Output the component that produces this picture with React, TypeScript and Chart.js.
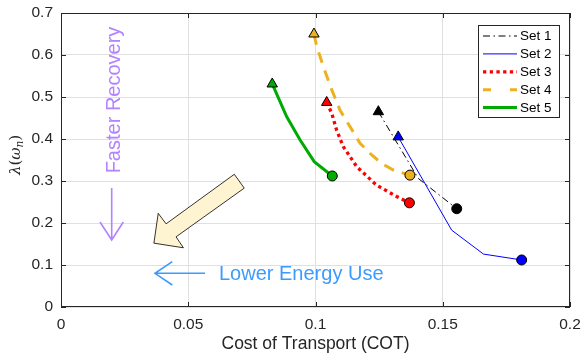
import React, { useEffect, useRef } from 'react';
import { Chart, registerables } from 'chart.js';

Chart.register(...registerables);

// ---- data ----
const xTickLabels = ['0', '0.05', '0.1', '0.15', '0.2'];
const yTickLabels = ['0', '0.1', '0.2', '0.3', '0.4', '0.5', '0.6', '0.7'];
const seriesNames = ['Set 1', 'Set 2', 'Set 3', 'Set 4', 'Set 5'];

const set1Cot = [0.1247, 0.1404, 0.1555];
const set1Lambda = [0.465, 0.306, 0.234];

const set2Cot = [0.1325, 0.1535, 0.166, 0.181];
const set2Lambda = [0.405, 0.183, 0.126, 0.112];

const set3Cot = [0.1044, 0.1064, 0.1083, 0.1109, 0.1162, 0.124, 0.1319, 0.1369];
const set3Lambda = [0.487, 0.461, 0.421, 0.382, 0.334, 0.29, 0.263, 0.248];

const set4Cot = [0.0994, 0.1005, 0.1031, 0.1064, 0.1096, 0.1136, 0.1175, 0.1221, 0.126, 0.1306, 0.1371];
const set4Lambda = [0.65, 0.62, 0.572, 0.517, 0.469, 0.429, 0.39, 0.362, 0.342, 0.326, 0.314];

const set5Cot = [0.083, 0.0887, 0.0939, 0.0995, 0.1066];
const set5Lambda = [0.531, 0.453, 0.398, 0.346, 0.312];

// annotation geometry in data coordinates
const blockArrowCot = [0.0681, 0.072, 0.0452, 0.0481, 0.0365, 0.0382, 0.0413];
const blockArrowLambda = [0.316, 0.283, 0.167, 0.141, 0.152, 0.223, 0.198];

const FONT = '"Liberation Sans", Arial, Helvetica, sans-serif';
const AXIS_COLOR = '#262626';

const colors = ['#000000', '#0000ff', '#ff0000', '#edb120', '#00aa00'];
const widths = [1, 1, 3.3, 3, 3];
const dashes: number[][] = [[7, 3.5, 1.5, 3.5], [], [3.3, 3.4], [11, 8], []];
const legendDashes: number[][] = [[7, 3.5, 1.5, 3.5], [], [3.3, 3.4], [8, 19], []];

const cots = [set1Cot, set2Cot, set3Cot, set4Cot, set5Cot];
const lambdas = [set1Lambda, set2Lambda, set3Lambda, set4Lambda, set5Lambda];

const overlayPlugin = {
  id: 'overlay',
  afterDraw(chart: any) {
    const { ctx, chartArea: a, scales } = chart;
    const xs = scales.x;
    const ys = scales.y;
    const px = (v: number) => xs.getPixelForValue(v);
    const py = (v: number) => ys.getPixelForValue(v);
    ctx.save();

    // box and inward ticks
    ctx.strokeStyle = AXIS_COLOR;
    ctx.lineWidth = 1;
    ctx.setLineDash([]);
    ctx.strokeRect(a.left + 0.5, a.top + 0.5, a.right - a.left - 1, a.bottom - a.top - 1);
    const tl = 5;
    ctx.beginPath();
    xTickLabels.forEach((_, i) => {
      const v = i * 0.05;
      const X = Math.round(px(v)) + 0.5;
      ctx.moveTo(X, a.bottom);
      ctx.lineTo(X, a.bottom - tl);
      ctx.moveTo(X, a.top);
      ctx.lineTo(X, a.top + tl);
    });
    yTickLabels.forEach((_, i) => {
      const v = i * 0.1;
      const Y = Math.round(py(v)) + 0.5;
      ctx.moveTo(a.left, Y);
      ctx.lineTo(a.left + tl, Y);
      ctx.moveTo(a.right, Y);
      ctx.lineTo(a.right - tl, Y);
    });
    ctx.stroke();

    // x axis title
    ctx.fillStyle = AXIS_COLOR;
    ctx.font = `17.5px ${FONT}`;
    ctx.textAlign = 'center';
    ctx.textBaseline = 'middle';
    ctx.fillText('Cost of Transport (COT)', (a.left + a.right) / 2, 344);

    // y axis title: λ(ω_n)
    ctx.save();
    ctx.translate(15, 155);
    ctx.rotate(-Math.PI / 2);
    ctx.textBaseline = 'alphabetic';
    ctx.textAlign = 'left';
    const fs = 15;
    const parts: [string, string, number][] = [
      ['λ', `italic ${fs}px "DejaVu Serif", serif`, 0],
      ['(', `${fs}px "DejaVu Serif", serif`, 0],
      ['ω', `italic ${fs}px "DejaVu Serif", serif`, 0],
      ['n', `italic ${fs * 0.7}px "DejaVu Serif", serif`, 3],
      [')', `${fs}px "DejaVu Serif", serif`, 0],
    ];
    let total = 0;
    parts.forEach((p) => {
      ctx.font = p[1];
      total += ctx.measureText(p[0]).width;
    });
    let cx = -total / 2;
    parts.forEach((p) => {
      ctx.font = p[1];
      ctx.fillText(p[0], cx, 5 + p[2]);
      cx += ctx.measureText(p[0]).width;
    });
    ctx.restore();

    // legend
    const lx = 478, ly = 25, lw = 81, lh = 92;
    ctx.fillStyle = '#ffffff';
    ctx.fillRect(lx, ly, lw, lh);
    ctx.strokeStyle = AXIS_COLOR;
    ctx.lineWidth = 1;
    ctx.strokeRect(lx + 0.5, ly + 0.5, lw, lh);
    seriesNames.forEach((name, i) => {
      const yy = 36 + i * 17.9;
      ctx.save();
      ctx.strokeStyle = colors[i];
      ctx.lineWidth = widths[i];
      ctx.lineCap = 'butt';
      ctx.setLineDash(legendDashes[i]);
      ctx.beginPath();
      ctx.moveTo(483, yy);
      ctx.lineTo(517, yy);
      ctx.stroke();
      ctx.restore();
      ctx.fillStyle = '#000000';
      ctx.font = `13.5px ${FONT}`;
      ctx.textAlign = 'left';
      ctx.textBaseline = 'middle';
      ctx.fillText(name, 520, yy + 0.5);
    });

    // block arrow
    ctx.beginPath();
    blockArrowCot.forEach((c, i) => {
      const X = px(c), Y = py(blockArrowLambda[i]);
      if (i === 0) ctx.moveTo(X, Y); else ctx.lineTo(X, Y);
    });
    ctx.closePath();
    ctx.fillStyle = '#fff4d2';
    ctx.fill();
    ctx.strokeStyle = '#000000';
    ctx.lineWidth = 0.8;
    ctx.stroke();

    // blue arrow + text
    const blue = 'rgb(60,155,255)';
    ctx.strokeStyle = blue;
    ctx.lineWidth = 1.6;
    ctx.beginPath();
    ctx.moveTo(205, 273.3);
    ctx.lineTo(155, 273.3);
    ctx.moveTo(172.3, 261.7);
    ctx.lineTo(155, 273.3);
    ctx.lineTo(172.3, 285);
    ctx.stroke();
    ctx.fillStyle = blue;
    ctx.font = `20px ${FONT}`;
    ctx.textAlign = 'left';
    ctx.textBaseline = 'middle';
    ctx.fillText('Lower Energy Use', 219, 274);

    // purple arrow + text
    const purple = 'rgb(180,130,255)';
    ctx.strokeStyle = purple;
    ctx.beginPath();
    ctx.moveTo(111.7, 188);
    ctx.lineTo(111.7, 240);
    ctx.moveTo(100, 222);
    ctx.lineTo(111.7, 240);
    ctx.lineTo(123.3, 222);
    ctx.stroke();
    ctx.save();
    ctx.translate(114, 100);
    ctx.rotate(-Math.PI / 2);
    ctx.fillStyle = purple;
    ctx.font = `20px ${FONT}`;
    ctx.textAlign = 'center';
    ctx.textBaseline = 'middle';
    ctx.fillText('Faster Recovery', 0, 0);
    ctx.restore();

    ctx.restore();
  },
};

const zeroPad = (s: any) => {
  s.paddingLeft = 0;
  s.paddingRight = 0;
  s.paddingTop = 0;
  s.paddingBottom = 0;
};

export default function App() {
  const ref = useRef<HTMLCanvasElement>(null);
  useEffect(() => {
    document.body.style.margin = '0';
    const datasets = seriesNames.map((name, i) => ({
      label: name,
      data: cots[i].map((c, j) => ({ x: c, y: lambdas[i][j] })),
      showLine: true,
      borderColor: colors[i],
      borderWidth: widths[i],
      borderDash: dashes[i],
      borderCapStyle: 'butt' as const,
      tension: 0,
      order: -i,
      pointStyle: (ctx: any) => (ctx.dataIndex === 0 ? 'triangle' : 'circle'),
      pointRadius: (ctx: any) =>
        ctx.dataIndex === 0 ? 6 : ctx.dataIndex === cots[i].length - 1 ? 5 : 0,
      pointBackgroundColor: colors[i],
      pointBorderColor: '#000000',
      pointBorderWidth: 1,
      pointHoverRadius: 0,
    }));
    const chart = new Chart(ref.current as HTMLCanvasElement, {
      type: 'scatter',
      data: { datasets },
      options: {
        responsive: false,
        animation: false,
        devicePixelRatio: 1,
        layout: { padding: { left: 0, top: 13, right: 11, bottom: 0 } },
        plugins: { legend: { display: false }, tooltip: { enabled: false } },
        scales: {
          x: {
            type: 'linear',
            min: 0,
            max: 0.2,
            ticks: {
              stepSize: 0.05,
              autoSkip: false,
              maxRotation: 0,
              padding: 8,
              color: AXIS_COLOR,
              font: { family: FONT, size: 15.5 },
              callback: (_v: any, i: number) => xTickLabels[i],
            },
            grid: { color: '#e0e0e0', drawTicks: false },
            border: { display: false },
            afterFit: (s: any) => {
              s.height = 49;
              zeroPad(s);
            },
          },
          y: {
            type: 'linear',
            min: 0,
            max: 0.7,
            ticks: {
              stepSize: 0.1,
              autoSkip: false,
              padding: 8,
              color: AXIS_COLOR,
              font: { family: FONT, size: 15.5 },
              callback: (_v: any, i: number) => yTickLabels[i],
            },
            grid: { color: '#e0e0e0', drawTicks: false },
            border: { display: false },
            afterFit: (s: any) => {
              s.width = 61;
              zeroPad(s);
            },
          },
        },
      } as any,
      plugins: [overlayPlugin],
    });
    return () => chart.destroy();
  }, []);
  return (
    <div style={{ width: 581, height: 356 }}>
      <canvas ref={ref} width={581} height={356} />
    </div>
  );
}
